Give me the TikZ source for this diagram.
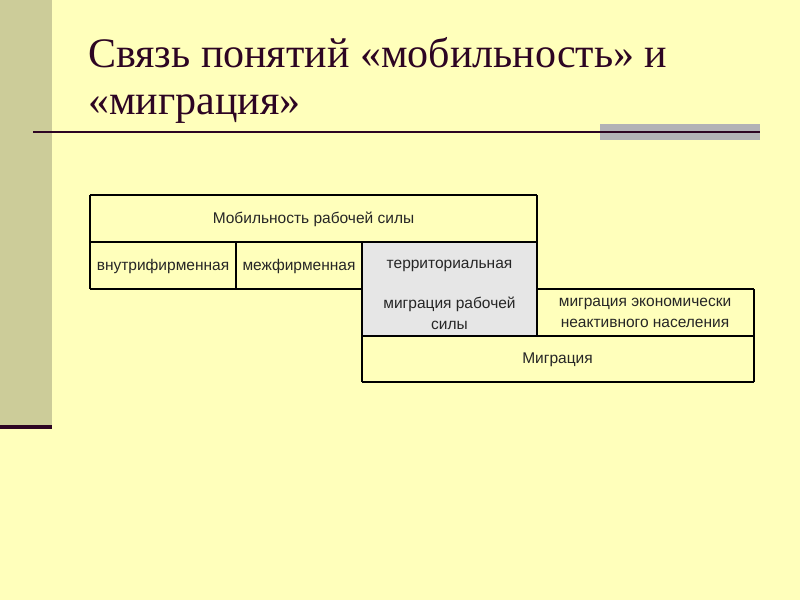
\documentclass[tikz,border=0pt]{standalone}
\usepackage{fontspec}
\setmainfont{Liberation Serif}
\newfontfamily\cellfont{Liberation Sans}
\definecolor{bgyellow}{RGB}{255,255,187}
\definecolor{barolive}{RGB}{204,204,153}
\definecolor{ink}{RGB}{45,5,35}
\definecolor{greybar}{RGB}{178,178,182}
\definecolor{cellgrey}{RGB}{230,230,230}
\tikzset{
  titletext/.style={anchor=base west, inner sep=0pt, text=ink, font=\fontsize{42}{46}\selectfont},
  celltext/.style={inner sep=0pt, align=center, text=black!85, font=\cellfont\fontsize{15.5}{21}\selectfont},
  gridline/.style={draw=black, line width=1.1pt},
}
\begin{document}
\begin{tikzpicture}[x=1pt,y=-1pt]
\useasboundingbox (0,0) rectangle (800,600);
\fill[bgyellow] (0,0) rectangle (800,600);
\fill[barolive] (0,0) rectangle (52,425);
\fill[ink] (0,425) rectangle (52,429);
\fill[greybar] (600,124) rectangle (760,140);
\draw[ink, line width=2.6pt] (33,132) -- (760,132);
% title
\node[titletext] (t1) at (88,67) {Связь понятий «мобильность» и};
\node[titletext] (t2) at (88,114) {«миграция»};
% grey fills
\fill[cellgrey] (362,242) rectangle (537,336);
% cell texts
\node[celltext] (mob) at (313.5,219) {Мобильность рабочей силы};
\node[celltext] (vnu) at (163,266) {внутрифирменная};
\node[celltext] (mez) at (299,266) {межфирменная};
\node[celltext] (ter) at (449.5,266) {территориальная};
\node[celltext] (mrs) at (449.5,313) {миграция рабочей\\силы};
\node[celltext] (men) at (645,313) {миграция экономически\\неактивного населения};
\node[celltext] (mig) at (557.5,359.5) {Миграция};
% grid lines
\draw[gridline] (90,195) -- (537,195);
\draw[gridline] (90,242) -- (537,242);
\draw[gridline] (90,289) -- (362,289);
\draw[gridline] (537,289) -- (754,289);
\draw[gridline] (362,336) -- (754,336);
\draw[gridline] (362,382) -- (754,382);
\draw[gridline] (90,195) -- (90,289);
\draw[gridline] (236,242) -- (236,289);
\draw[gridline] (362,242) -- (362,382);
\draw[gridline] (537,195) -- (537,336);
\draw[gridline] (754,289) -- (754,382);
\end{tikzpicture}
\end{document}
